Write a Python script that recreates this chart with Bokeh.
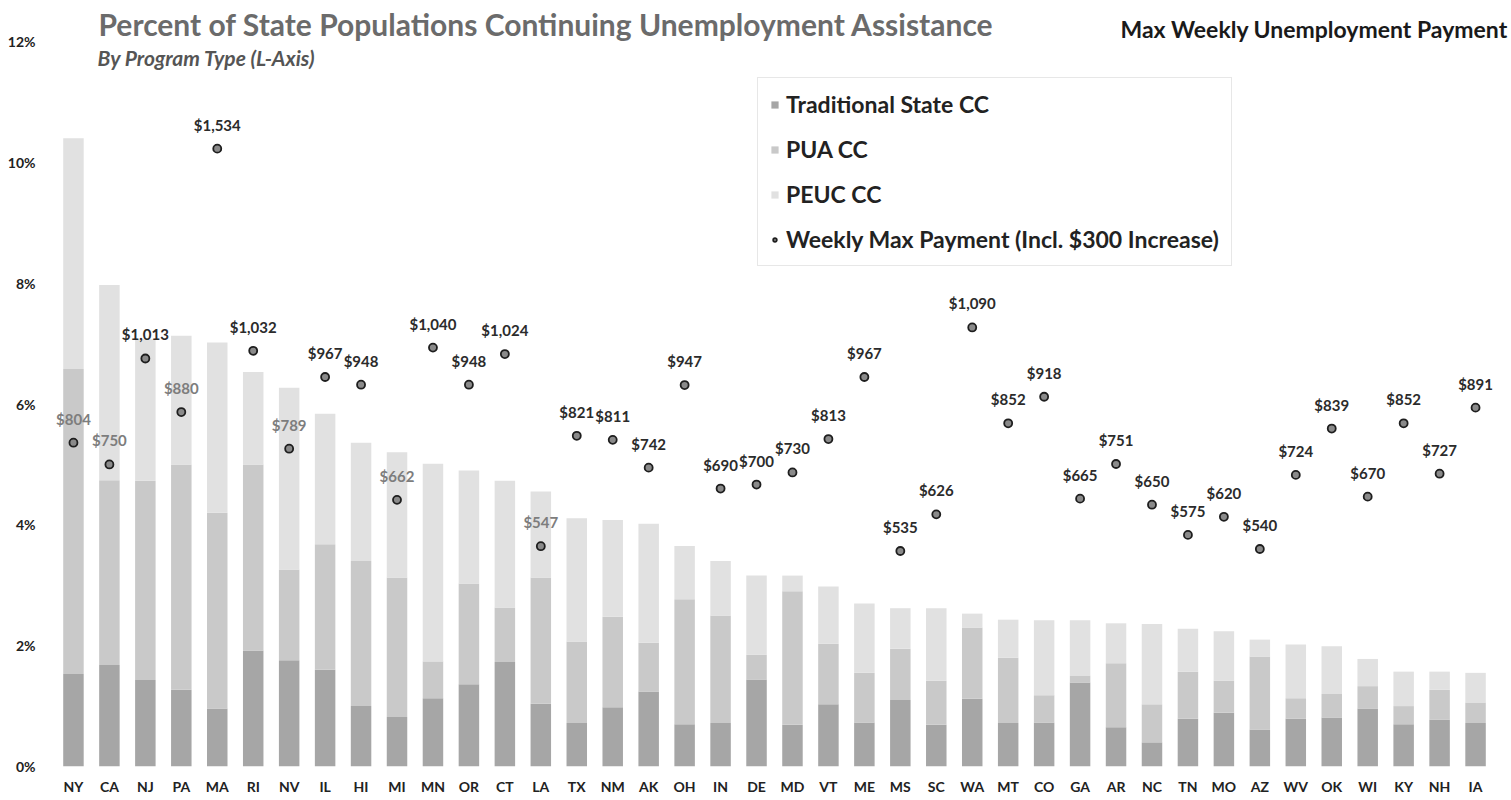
from bokeh.plotting import figure
from bokeh.models import (ColumnDataSource, FactorRange, Range1d, FixedTicker,
                          PrintfTickFormatter, Label, Legend, LegendItem)
from bokeh.core.properties import value
from bokeh.embed import file_html
from bokeh.resources import INLINE

# ---------------- data ----------------
states = ["NY", "CA", "NJ", "PA", "MA", "RI", "NV", "IL", "HI", "MI",
          "MN", "OR", "CT", "LA", "TX", "NM", "AK", "OH", "IN", "DE",
          "MD", "VT", "ME", "MS", "SC", "WA", "MT", "CO", "GA", "AR",
          "NC", "TN", "MO", "AZ", "WV", "OK", "WI", "KY", "NH", "IA"]

# percent of state population (continuing claims)
traditional = [1.53, 1.68, 1.43, 1.27, 0.96, 1.92, 1.76, 1.60, 1.00, 0.82,
               1.13, 1.36, 1.73, 1.04, 0.72, 0.98, 1.24, 0.70, 0.72, 1.44,
               0.69, 1.03, 0.73, 1.10, 0.69, 1.12, 0.72, 0.73, 1.39, 0.65,
               0.40, 0.79, 0.89, 0.61, 0.79, 0.81, 0.96, 0.70, 0.78, 0.72]
pua = [5.05, 3.06, 3.30, 3.73, 3.24, 3.08, 1.50, 2.08, 2.40, 2.31,
       0.61, 1.67, 0.90, 2.09, 1.35, 1.50, 0.81, 2.07, 1.78, 0.41,
       2.21, 1.00, 0.82, 0.85, 0.73, 1.18, 1.08, 0.45, 0.11, 1.06,
       0.63, 0.78, 0.53, 1.21, 0.34, 0.39, 0.37, 0.30, 0.49, 0.34]
peuc = [3.82, 3.23, 2.34, 2.13, 2.82, 1.53, 3.01, 2.16, 1.96, 2.07,
        3.27, 1.87, 2.10, 1.42, 2.04, 1.60, 1.97, 0.88, 0.90, 1.31,
        0.26, 0.95, 1.15, 0.67, 1.20, 0.23, 0.63, 1.24, 0.92, 0.66,
        1.33, 0.71, 0.82, 0.28, 0.89, 0.79, 0.45, 0.57, 0.30, 0.49]

# weekly max payment incl. $300 increase (right axis, dollars)
weekly_max = [804, 750, 1013, 880, 1534, 1032, 789, 967, 948, 662,
              1040, 948, 1024, 547, 821, 811, 742, 947, 690, 700,
              730, 813, 967, 535, 626, 1090, 852, 918, 665, 751,
              650, 575, 620, 540, 724, 839, 670, 852, 727, 891]

series_names = ["Traditional State CC", "PUA CC", "PEUC CC",
                "Weekly Max Payment (Incl. $300 Increase)"]
y_ticks = [0, 2, 4, 6, 8, 10, 12]

# ---------------- styling / layout ----------------
FONT = "Lato"
bar_colors = ["#a6a6a6", "#c9c9c9", "#e1e1e1"]
PCT_MAX = 12          # top tick of left axis
USD_MAX = 1800        # right-axis value aligned with PCT_MAX
FRAME_H = 766         # frame spans the full height above the x axis
TOP_TICK_Y = 41       # pixel row of the 12% tick
stretch = FRAME_H / (FRAME_H - TOP_TICK_Y)

totals = [a + b + c for a, b, c in zip(traditional, pua, peuc)]
pay_txt = ["${:,}".format(v) for v in weekly_max]
# labels drawn over a bar look lighter in the source
lbl_color = ["#7d7d7d" if (v / USD_MAX * PCT_MAX + 0.4) < t else "#2b2b2b"
             for v, t in zip(weekly_max, totals)]

src = ColumnDataSource(dict(state=states, trad=traditional, pua=pua, peuc=peuc,
                            pay=weekly_max, pay_txt=pay_txt, lbl_color=lbl_color))

x_range = FactorRange(factors=states, range_padding=0.5,
                      range_padding_units="absolute", factor_padding=0)

p = figure(width=1511, height=800, x_range=x_range,
           y_range=Range1d(0, PCT_MAX * stretch), output_backend="svg",
           toolbar_location=None, min_border_top=0, min_border_bottom=34,
           min_border_left=37, min_border_right=0)
p.extra_y_ranges = {"usd": Range1d(0, USD_MAX * stretch)}

p.background_fill_color = "white"
p.border_fill_color = "white"
p.outline_line_color = None
p.xgrid.grid_line_color = None
p.ygrid.grid_line_color = None

bars = p.vbar_stack(["trad", "pua", "peuc"], x="state", width=0.57,
                    color=bar_colors, line_color=None, source=src)

dots = p.scatter(x="state", y="pay", y_range_name="usd", source=src, size=8,
                 fill_color="#8a8a8a", line_color="#1e1e1e", line_width=1.8)

p.text(x="state", y="pay", y_range_name="usd", text="pay_txt", source=src,
       text_align="center", text_baseline="middle", y_offset=-24,
       text_font=value(FONT), text_font_style="bold", text_font_size="15px",
       text_color="lbl_color")

# axes
p.yaxis.ticker = FixedTicker(ticks=y_ticks)
p.yaxis.formatter = PrintfTickFormatter(format="%d%%")
for ax in (p.xaxis[0], p.yaxis[0]):
    ax.axis_line_color = None
    ax.major_tick_line_color = None
    ax.minor_tick_line_color = None
    ax.major_tick_out = 0
    ax.major_label_text_font = FONT
    ax.major_label_text_font_style = "bold"
    ax.major_label_text_font_size = "14px"
    ax.major_label_text_color = "#222222"
p.yaxis.major_label_standoff = 2
p.xaxis.major_label_standoff = 11

# legend
legend = Legend(items=[LegendItem(label=series_names[0], renderers=[bars[0]]),
                       LegendItem(label=series_names[1], renderers=[bars[1]]),
                       LegendItem(label=series_names[2], renderers=[bars[2]]),
                       LegendItem(label=series_names[3], renderers=[dots])],
                location=(720, 500), orientation="vertical",
                glyph_width=9, glyph_height=9, label_height=26,
                label_standoff=7, spacing=17, padding=12, margin=0,
                label_text_font=FONT, label_text_font_size="23px",
                label_text_font_style="bold",
                label_text_color="#222222",
                border_line_color="#d0d0d0", border_line_width=1,
                background_fill_color="white", background_fill_alpha=1)
p.add_layout(legend, "center")

# titles (screen units measured from the frame's lower-left corner)
p.add_layout(Label(x=61, y=FRAME_H - 23, x_units="screen", y_units="screen",
                   text="Percent of State Populations Continuing Unemployment Assistance",
                   text_font=FONT, text_font_style="bold", text_font_size="30px",
                   text_color="#6b6b6b", text_baseline="middle"))
p.add_layout(Label(x=60, y=FRAME_H - 57, x_units="screen", y_units="screen",
                   text="By Program Type (L-Axis)",
                   text_font=FONT, text_font_style="bold italic", text_font_size="21px",
                   text_color="#555555", text_baseline="middle"))
p.add_layout(Label(x=1083, y=FRAME_H - 28, x_units="screen", y_units="screen",
                   text="Max Weekly Unemployment Payment",
                   text_font=FONT, text_font_style="bold", text_font_size="23px",
                   text_color="#1a1a1a", text_baseline="middle"))

open("out.html", "w").write(file_html(p, INLINE))
